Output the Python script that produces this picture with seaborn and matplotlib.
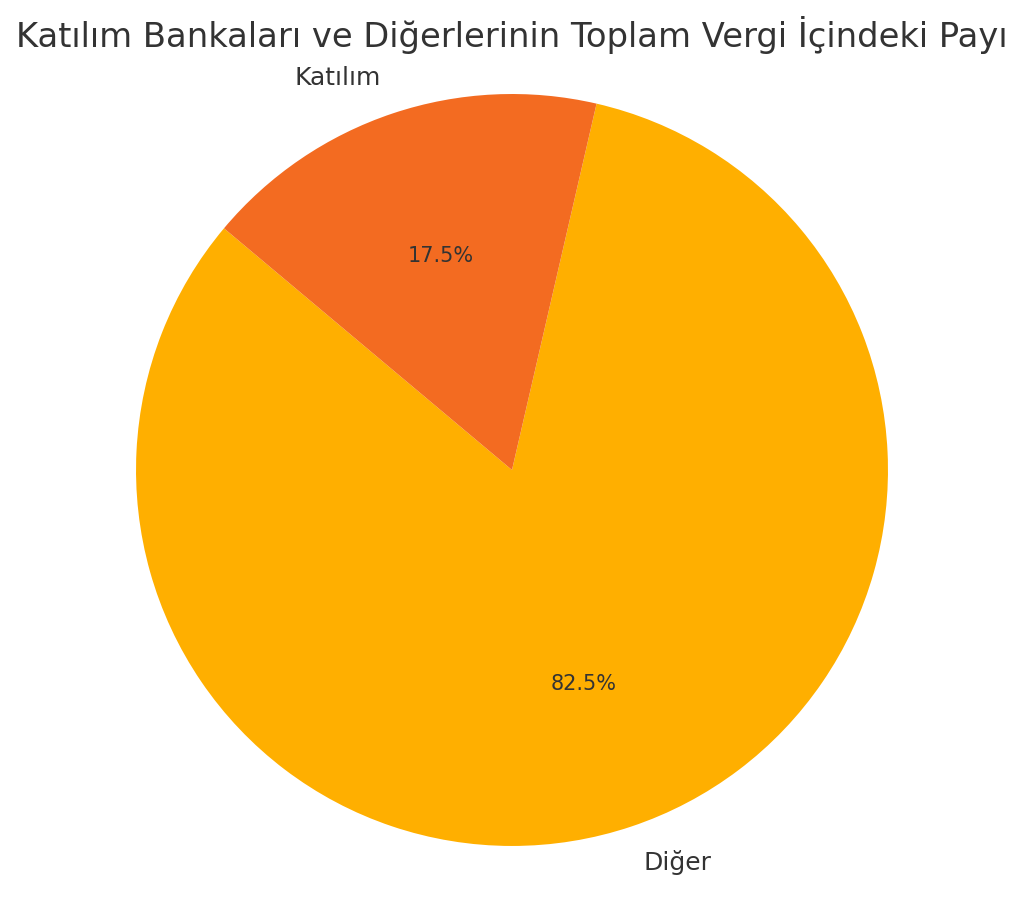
import seaborn as sns
import matplotlib.pyplot as plt

# Data
labels = ['Diğer', 'Katılım']
shares = [82.5, 17.5]
colors = ['#FFAF00', '#F36B21']

sns.set_theme(style='white')
plt.rcParams['font.family'] = ['DejaVu Sans']

fig = plt.figure(figsize=(10.24, 8.97), dpi=100)
ax = fig.add_axes([0.1328, 0.0569, 0.7344, 0.8383])

wedges, texts, autotexts = ax.pie(shares, labels=labels, colors=colors, autopct='%1.1f%%',
                                  startangle=140, wedgeprops={'linewidth': 0},
                                  textprops={'color': '#333333', 'fontsize': 18})
for t in autotexts:
    t.set_fontsize(15)
ax.set_xlim(-1, 1)
ax.set_ylim(-1, 1)
ax.set_aspect('equal')

fig.text(0.5, 1 - 35 / 897, 'Katılım Bankaları ve Diğerlerinin Toplam Vergi İçindeki Payı',
         fontsize=24.3, color='#333333', ha='center', va='center')

plt.savefig('out.png', dpi=100)
